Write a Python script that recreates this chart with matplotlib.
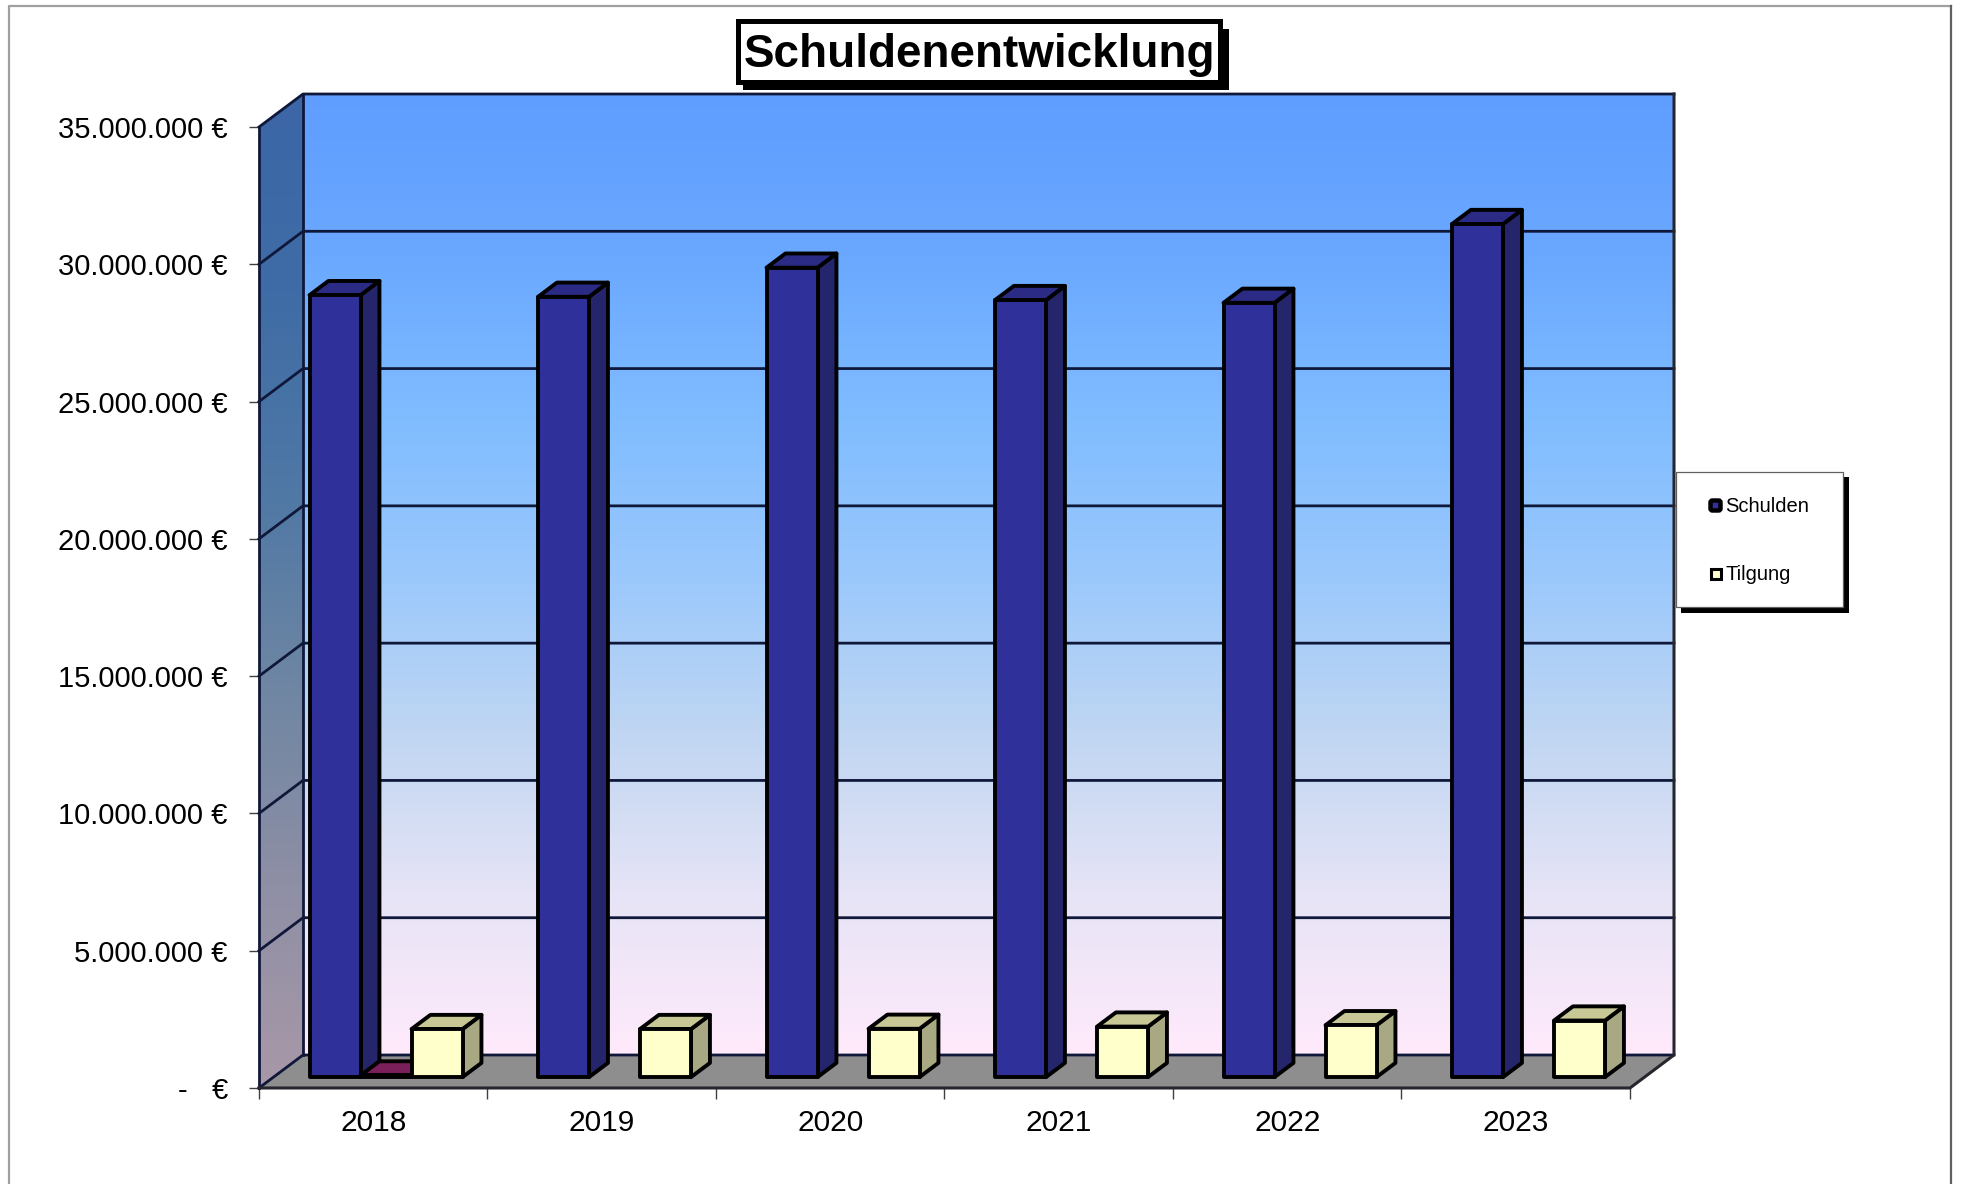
import numpy as np
import matplotlib

matplotlib.use("Agg")
import matplotlib.pyplot as plt
from matplotlib.colors import LinearSegmentedColormap
from matplotlib.patches import FancyBboxPatch, Polygon, Rectangle

plt.rcParams["font.family"] = ["Liberation Sans", "DejaVu Sans"]

FIG_W, FIG_H = 1961, 1184

years = ["2018", "2019", "2020", "2021", "2022", "2023"]
schulden = [28480000, 28420000, 29480000, 28300000, 28200000, 31070000]
sondertilgung = [60000, None, None, None, None, None]
tilgung = [1750000, 1750000, 1760000, 1840000, 1890000, 2060000]
y_ticks = [0, 5000000, 10000000, 15000000, 20000000, 25000000, 30000000, 35000000]
y_labels = ["-   €", "5.000.000 €", "10.000.000 €", "15.000.000 €", "20.000.000 €",
            "25.000.000 €", "30.000.000 €", "35.000.000 €"]

wall_colors = ["#ffeafb", "#e6e4f6", "#c0d6f2", "#9ac8fc", "#7fbcff", "#6aa8ff", "#5f9dff"]
side_colors = ["#a898a8", "#8f8fa5", "#6f86a3", "#4f78a5", "#3f6ca6", "#3c66a6"]

# depth of the 3d box in axis units
DX = 44 / 228.5
DY = 33 / 137.3 * 5000000
LINE = "#10183a"


def pt(x, y, d=0.0):
    return (x + d * DX, y + d * DY)


def px_axes(left, top, right, bottom):
    return [left / FIG_W, 1 - bottom / FIG_H, (right - left) / FIG_W, (bottom - top) / FIG_H]


def draw_bar(ax, x, w, value, front, top, side, d0=0.33, d1=0.76):
    edge = dict(edgecolor="black", linewidth=2.8, joinstyle="round", clip_on=False, zorder=5)
    ax.add_patch(Polygon([pt(x + w, 0, d0), pt(x + w, 0, d1), pt(x + w, value, d1), pt(x + w, value, d0)],
                         facecolor=side, **edge))
    ax.add_patch(Polygon([pt(x, value, d0), pt(x + w, value, d0), pt(x + w, value, d1), pt(x, value, d1)],
                         facecolor=top, **edge))
    ax.add_patch(Polygon([pt(x, 0, d0), pt(x + w, 0, d0), pt(x + w, value, d0), pt(x, value, d0)],
                         facecolor=front, **edge))


fig = plt.figure(figsize=(FIG_W / 100, FIG_H / 100), dpi=100, facecolor="white")
ax = fig.add_axes(px_axes(259, 127, 1630, 1088))
ax.set_xlim(0, len(years))
ax.set_ylim(0, 35000000)
ax.patch.set_visible(False)
for spine in ax.spines.values():
    spine.set_visible(False)

y_max = y_ticks[-1]
n_years = len(years)

# back wall
wall_cmap = LinearSegmentedColormap.from_list("wall", wall_colors)
grad = np.linspace(0, 1, 256).reshape(-1, 1)
back = ax.imshow(grad, cmap=wall_cmap, origin="lower", aspect="auto", zorder=1,
                 extent=[DX, n_years + DX, DY, y_max + DY])
back.set_clip_on(False)

# left wall
side_cmap = LinearSegmentedColormap.from_list("side", side_colors)
side_img = ax.imshow(grad, cmap=side_cmap, origin="lower", aspect="auto", zorder=1,
                     extent=[0, DX, 0, y_max + DY])
side_poly = Polygon([pt(0, 0), pt(0, 0, 1), pt(0, y_max, 1), pt(0, y_max)], transform=ax.transData,
                    facecolor="none", edgecolor="none")
ax.add_patch(side_poly)
side_poly.set_clip_on(False)
side_img.set_clip_box(fig.bbox)
side_img.set_clip_path(side_poly)
ax.set_xlim(0, n_years)
ax.set_ylim(0, y_max)

# floor
ax.add_patch(Polygon([pt(0, 0), pt(n_years, 0), pt(n_years, 0, 1), pt(0, 0, 1)], facecolor="#8e8e8e",
                     edgecolor="none", clip_on=False, zorder=2))

# grid lines round the walls
for val in y_ticks:
    xs, ys = zip(pt(0, val), pt(0, val, 1), pt(n_years, val, 1))
    ax.plot(xs, ys, color=LINE, lw=2.0, clip_on=False, zorder=3)
xs, ys = zip(pt(0, 0), pt(0, y_max))
ax.plot(xs, ys, color=LINE, lw=2.0, clip_on=False, zorder=3)
xs, ys = zip(pt(0, 0, 1), pt(0, y_max, 1))
ax.plot(xs, ys, color=LINE, lw=2.0, clip_on=False, zorder=3)
xs, ys = zip(pt(n_years, y_max, 1), pt(n_years, 0, 1), pt(n_years, 0), pt(0, 0))
ax.plot(xs, ys, color="#26262e", lw=2.2, clip_on=False, zorder=3)

# bars
bar_w = 51 / 228.5
gap = 36 / 228.5
for i in range(n_years):
    x0 = i + gap
    draw_bar(ax, x0, bar_w, schulden[i], "#30309a", "#2b2b85", "#25256c")
    if sondertilgung[i] is not None:
        draw_bar(ax, x0 + bar_w, bar_w, sondertilgung[i], "#7b1f5a", "#7b1f5a", "#5e1846")
    draw_bar(ax, x0 + 2 * bar_w, bar_w, tilgung[i], "#ffffcc", "#c8c896", "#a8a882")

# axes ticks
ax.set_yticks(y_ticks)
ax.set_yticklabels(y_labels, fontsize=21, color="black")
ax.tick_params(axis="y", length=7, width=1, color="#404040", pad=15.5)
ax.set_xticks(range(n_years + 1))
ax.set_xticklabels([])
ax.set_xticks(np.arange(n_years) + 0.5, minor=True)
ax.set_xticklabels(years, minor=True, fontsize=21.5, color="black")
ax.tick_params(axis="x", which="major", length=8, width=1, color="#404040")
ax.tick_params(axis="x", which="minor", length=0, pad=15)

# overlay in pixels for title box, legend and frame
over = fig.add_axes([0, 0, 1, 1], zorder=10)
over.set_xlim(0, FIG_W)
over.set_ylim(FIG_H, 0)
over.axis("off")

over.plot([9, 9, 1951], [FIG_H, 5.5, 5.5], color="#a0a0a0", lw=1.6)
over.plot([1951, 1951], [5.5, FIG_H], color="#606060", lw=1.6)

# title box
over.add_patch(Rectangle((743, 29), 486, 61, facecolor="black", edgecolor="none"))
over.add_patch(Rectangle((737.5, 21), 482, 61, facecolor="white", edgecolor="black", linewidth=3.6))
over.text(979, 55, "Schuldenentwicklung", fontsize=33, fontweight="bold", ha="center", va="center")

# legend
over.add_patch(Rectangle((1681, 477), 168, 136, facecolor="black", edgecolor="none"))
over.add_patch(Rectangle((1676, 472), 167, 135, facecolor="white", edgecolor="#606060", linewidth=0.9))
over.add_patch(FancyBboxPatch((1710.5, 500.5), 10, 10, boxstyle="round,pad=0,rounding_size=2",
                              facecolor="#30309a", edgecolor="black", linewidth=3.2))
over.add_patch(Rectangle((1710.5, 568.5), 10, 10, facecolor="#ffffcc", edgecolor="black", linewidth=2.2))
over.text(1725, 507, "Schulden", fontsize=14.5, va="center")
over.text(1725, 574, "Tilgung", fontsize=14.5, va="center")

fig.savefig("out.png", dpi=100, facecolor="white")
plt.close(fig)
